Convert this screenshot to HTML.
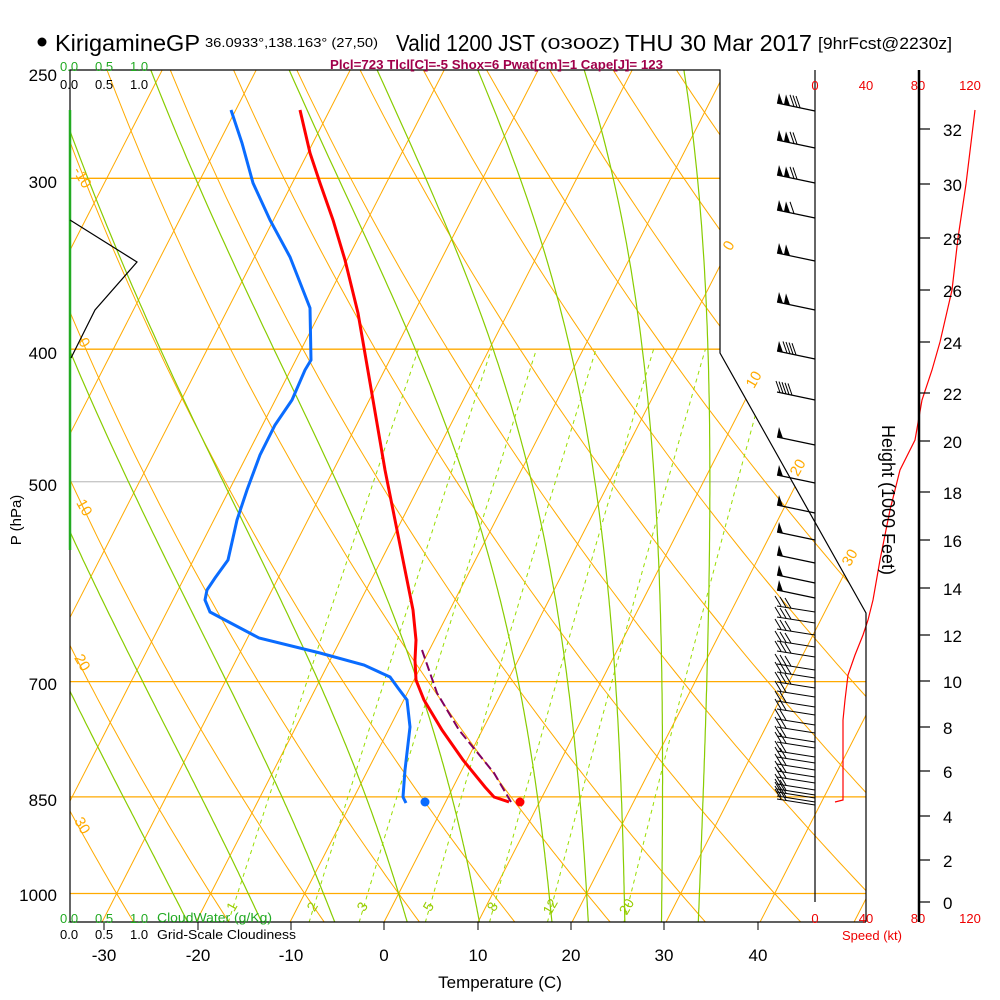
<!DOCTYPE html>
<html><head><meta charset="utf-8"><style>
html,body{margin:0;padding:0;background:#fff;width:1000px;height:1000px;overflow:hidden}
svg text{font-family:"Liberation Sans",sans-serif}
</style></head><body>
<svg id="s" width="1000" height="1000" viewBox="0 0 1000 1000" xmlns="http://www.w3.org/2000/svg">
<defs><clipPath id="cp"><polygon points="70,70 720,70 720,353 866,613 866,922 70,922"/></clipPath></defs>
<g id="grid" clip-path="url(#cp)"></g>
<g id="data"></g>
<polyline points="70,922 70,70 720,70 720,353 866,613 866,922" fill="none" stroke="#000" stroke-width="1.2"/>
<line x1="70" y1="922" x2="866" y2="922" stroke="#000" stroke-width="1.2"/>
<line x1="70" y1="110" x2="70" y2="550" stroke="#22aa22" stroke-width="2.5"/>
<polyline points="70,220 137,262 95,310 71,358" fill="none" stroke="#000" stroke-width="1.2"/>
<g stroke="#000" stroke-width="1">
<line x1="104" y1="922" x2="104" y2="930"/><line x1="198" y1="922" x2="198" y2="930"/><line x1="291" y1="922" x2="291" y2="930"/><line x1="384" y1="922" x2="384" y2="930"/><line x1="478" y1="922" x2="478" y2="930"/><line x1="571" y1="922" x2="571" y2="930"/><line x1="664" y1="922" x2="664" y2="930"/><line x1="758" y1="922" x2="758" y2="930"/>
</g>
<circle cx="42" cy="42" r="4.5" fill="#000"/>
<text x="55" y="51" font-size="23" textLength="145" lengthAdjust="spacingAndGlyphs">KirigamineGP</text>
<text x="205" y="47" font-size="13" textLength="173" lengthAdjust="spacingAndGlyphs">36.0933°,138.163° (27,50)</text>
<text x="396" y="51" font-size="23" textLength="139" lengthAdjust="spacingAndGlyphs">Valid 1200 JST</text>
<text x="540" y="49" font-size="16" textLength="80" lengthAdjust="spacingAndGlyphs">(0300Z)</text>
<text x="625" y="51" font-size="23" textLength="187" lengthAdjust="spacingAndGlyphs">THU 30 Mar 2017</text>
<text x="818" y="49" font-size="17" textLength="134" lengthAdjust="spacingAndGlyphs">[9hrFcst@2230z]</text>
<text x="330" y="69" font-size="13" font-weight="bold" fill="#a0004a" textLength="333" lengthAdjust="spacingAndGlyphs">Plcl=723 Tlcl[C]=-5 Shox=6 Pwat[cm]=1 Cape[J]= 123</text>
<g font-size="13" fill="#22aa22"><text x="60" y="71">0.0</text><text x="95" y="71">0.5</text><text x="130" y="71">1.0</text></g>
<g font-size="13" fill="#000"><text x="60" y="89">0.0</text><text x="95" y="89">0.5</text><text x="130" y="89">1.0</text></g>
<g font-size="17" text-anchor="end">
<text x="57" y="81">250</text><text x="57" y="188">300</text><text x="57" y="359">400</text><text x="57" y="491">500</text><text x="57" y="690">700</text><text x="57" y="806">850</text><text x="57" y="901">1000</text>
</g>
<text transform="translate(21,520) rotate(-90)" font-size="15" text-anchor="middle">P (hPa)</text>
<g font-size="13" fill="#22aa22"><text x="60" y="923">0.0</text><text x="95" y="923">0.5</text><text x="130" y="923">1.0</text><text x="157" y="922" textLength="115" lengthAdjust="spacingAndGlyphs">CloudWater (g/Kg)</text></g>
<g font-size="13" fill="#000"><text x="60" y="939">0.0</text><text x="95" y="939">0.5</text><text x="130" y="939">1.0</text><text x="157" y="939" textLength="139" lengthAdjust="spacingAndGlyphs">Grid-Scale Cloudiness</text></g>
<g font-size="17" text-anchor="middle">
<text x="104" y="961">-30</text><text x="198" y="961">-20</text><text x="291" y="961">-10</text><text x="384" y="961">0</text><text x="478" y="961">10</text><text x="571" y="961">20</text><text x="664" y="961">30</text><text x="758" y="961">40</text>
</g>
<text x="500" y="988" font-size="17" text-anchor="middle">Temperature (C)</text>
<line x1="815" y1="70" x2="815" y2="902" stroke="#000" stroke-width="1.2"/>
<g font-size="13" fill="#e00" text-anchor="middle">
<text x="815" y="90">0</text><text x="866" y="90">40</text><text x="918" y="90">80</text><text x="970" y="90">120</text>
<text x="815" y="923">0</text><text x="866" y="923">40</text><text x="918" y="923">80</text><text x="970" y="923">120</text>
<text x="872" y="940">Speed (kt)</text>
</g>
<line x1="919" y1="70" x2="919" y2="922" stroke="#000" stroke-width="2.5"/>
<g id="hax"></g>
<text transform="translate(882,500) rotate(90)" font-size="18" text-anchor="middle">Height (1000 Feet)</text>
<g font-size="15" fill="#ffaa00" text-anchor="middle">
<text transform="translate(78,180) rotate(60)">-10</text>
<text transform="translate(80,345) rotate(60)">0</text>
<text transform="translate(80,510) rotate(60)">10</text>
<text transform="translate(78,665) rotate(60)">20</text>
<text transform="translate(78,828) rotate(60)">30</text>
<text transform="translate(733,248) rotate(-60)">0</text>
<text transform="translate(758,382) rotate(-60)">10</text>
<text transform="translate(802,470) rotate(-60)">20</text>
<text transform="translate(854,560) rotate(-60)">30</text>
</g>
<g id="wl" font-size="14" fill="#99cc00" text-anchor="middle"></g>
</svg>
<script>
var NS="http://www.w3.org/2000/svg";
function Y(p){return 70+594*Math.log(p/250);}
function X(T,p){return 384+9.4*T+0.512*(922-Y(p));}
function el(par,tag,a){var e=document.createElementNS(NS,tag);for(var k in a)e.setAttribute(k,a[k]);par.appendChild(e);return e;}
var g=document.getElementById('grid'),d=document.getElementById('data');
function pl(par,pts,st,w,dash){var a={points:pts.map(function(q){return q[0].toFixed(1)+','+q[1].toFixed(1)}).join(' '),fill:'none',stroke:st,'stroke-width':w};if(dash)a['stroke-dasharray']=dash;el(par,'polyline',a);}
[[300,'#ffaa00'],[400,'#ffaa00'],[500,'#c8c8c8'],[700,'#ffaa00'],[850,'#ffaa00'],[1000,'#ffaa00']].forEach(function(a){var y=Y(a[0]);pl(g,[[70,y],[870,y]],a[1],1.3);});
for(var T=-160;T<=60;T+=10){pl(g,[[X(T,1049),922],[X(T,240),Y(240)]],'#ffaa00',1);}
for(var th=-40;th<=260;th+=10){var pts=[];for(var p=1060;p>=230;p-=10){var t=(th+273.15)*Math.pow(p/1000,0.2857)-273.15;pts.push([X(t,p),Y(p)]);}pl(g,pts,'#ffaa00',1);}
function es(t){return 6.112*Math.exp(17.67*t/(t+243.5));}
function dTdp(t,p){var TK=t+273.15,e=es(t),rs=0.622*e/(p-e),Rd=287,Lv=2.5e6,cp=1005;return (Rd*TK+Lv*rs)/(p*(cp+Lv*Lv*rs*0.622/(Rd*TK*TK)));}
[-24,-16,-8,0,8,16,20,24,28,32].forEach(function(tw){var pts=[],t=tw;for(var p=1000;p<=1060;p+=5){pts.unshift([X(t,p),Y(p)]);t+=dTdp(t,p)*5;}t=tw;for(var p=1000;p>=240;p-=5){pts.push([X(t,p),Y(p)]);t-=dTdp(t,p)*5;}pl(g,pts,'#88cc00',1.2);});
var wl=document.getElementById('wl');
[1,2,3,5,8,12,20].forEach(function(w){var pts=[];for(var p=1050;p>=400;p-=10){var e=w*p/(622+w),L=Math.log(e/6.112),td=243.5*L/(17.67-L);pts.push([X(td,p),Y(p)]);}pl(g,pts,'#99dd00',1,'4,4');
var e=w*1030/(622+w),L=Math.log(e/6.112),td=243.5*L/(17.67-L);var t=el(wl,'text',{transform:'translate('+(X(td,1030)+4).toFixed(1)+','+(Y(1030)-2).toFixed(1)+') rotate(-60)'});t.textContent=w;});
pl(d,[[231,110],[242,143],[253,183],[270,220],[290,257],[310,308],[311,360],[305,370],[292,400],[275,425],[260,455],[247,490],[237,520],[228,560],[215,578],[207,590],[205,600],[210,612],[225,620],[259,638],[320,653],[364,665],[390,677],[398,688],[407,700],[410,727],[405,770],[403,797],[406,803]],'#0a6cff',3);
pl(d,[[300,110],[310,153],[320,183],[333,220],[345,260],[358,313],[373,400],[385,470],[395,520],[405,570],[413,610],[416,640],[415,660],[416,680],[424,700],[442,730],[463,760],[485,787],[494,797],[509,802]],'#ff0000',3);
pl(d,[[422,650],[437,693],[459,730],[494,773],[511,802]],'#800060',2,'9,4');
el(d,'circle',{cx:520,cy:802,r:4.5,fill:'#ff0000'});
el(d,'circle',{cx:425,cy:802,r:4.5,fill:'#0a6cff'});
pl(d,[[835,802],[843,800],[843,720],[845,700],[848,675],[855,655],[863,635],[868,620],[873,600],[880,560],[890,510],[900,470],[915,440],[922,400],[932,370],[940,342],[952,290],[958,238],[966,184],[975,110]],'#ff0000',1.2);
var hx=document.getElementById('hax');
var hy=[902,860,816,771,727,681,635,588,540,492,441,393,342,290,238,184,129];
hy.forEach(function(y,i){el(hx,'line',{x1:919,y1:y,x2:930,y2:y,stroke:'#000','stroke-width':1.2});var t=el(hx,'text',{x:943,y:y+7,'font-size':17});t.textContent=i*2;});
function barb(y,nf,nb){var x0=777,y0=y-8;el(d,'line',{x1:815,y1:y,x2:x0,y2:y0,stroke:'#000','stroke-width':1.2});var x=x0;
for(var i=0;i<nf;i++){var yy=y0+(x-x0)*0.2;el(d,'polygon',{points:x+','+yy+' '+(x+6)+','+(yy+1.2)+' '+(x+2)+','+(yy-10),fill:'#000'});x+=7;}
for(var j=0;j<nb;j++){var yy=y0+(x-x0)*0.2;el(d,'line',{x1:x+3,y1:yy+0.6,x2:x-1,y2:yy-11,stroke:'#000','stroke-width':1});x+=3;}}
[[111,2,3],[148,2,2],[183,2,2],[218,2,1],[261,2,0],[310,2,0],[359,1,4],[400,0,5],[445,1,0],[483,1,0],[513,1,0],[540,1,0],[563,1,0],[583,1,0],[598,1,0]].forEach(function(a){barb(a[0],a[1],a[2]);});
[612,623,635,647,657,670,678,688,697,707,715,725,733,742,748,757,763,770,777,783,790,795,798,802,805].forEach(function(y,i){var x0=777;el(d,'line',{x1:815,y1:y,x2:x0,y2:y-6,stroke:'#000','stroke-width':1});var n=i<8?3:2;for(var j=0;j<n;j++){var x=x0+j*5;el(d,'line',{x1:x+4,y1:y-6+j,x2:x-2,y2:y-16+j,stroke:'#000','stroke-width':1});}});
</script>
</body></html>
